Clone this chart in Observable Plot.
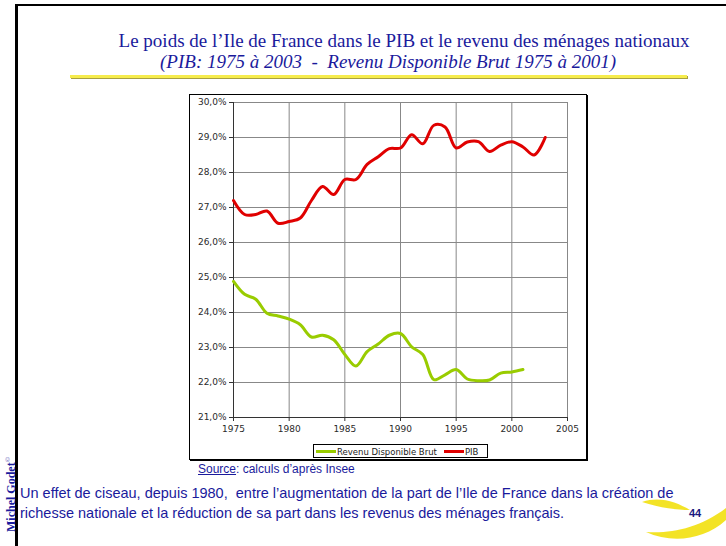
<!DOCTYPE html>
<html>
<head>
<meta charset="utf-8">
<script src="https://cdn.jsdelivr.net/npm/d3@7"></script>
<script src="https://cdn.jsdelivr.net/npm/@observablehq/plot@0.6"></script>
<style>
  html, body { margin: 0; padding: 0; background: #fff; }
  #page { position: relative; width: 726px; height: 546px; overflow: hidden; background: #fff; }
  .abs { position: absolute; white-space: nowrap; }
  .navy { color: #1a1a9c; }
</style>
</head>
<body>
<div id="page">
  <div class="abs" style="left:15px;top:4px;width:720px;height:560px;border-left:3px solid #000;border-top:2px solid #000;"></div>
  <div class="abs navy" id="title" style="left:404px;top:30px;transform:translateX(-50%);font:19px 'Liberation Serif',serif;line-height:22px;"></div>
  <div class="abs navy" id="subtitle" style="left:388px;top:51px;transform:translateX(-50%);font:italic 19px 'Liberation Serif',serif;line-height:22px;"></div>
  <div class="abs" style="left:70px;top:75px;width:617px;height:3px;background:#f6ec4c;box-shadow:1px 1px 0 #a8a040;"></div>
  <div class="abs" style="left:189px;top:94px;width:396px;height:364px;border:1px solid #000;box-shadow:1px 1px 0 #000;"></div>
  <div class="abs" id="chart" style="left:189px;top:94px;"></div>
  <div class="abs" id="legend" style="left:313px;top:444px;width:173px;height:12px;border:1px solid #000;font:8.5px 'DejaVu Sans',sans-serif;color:#222;line-height:12px;"></div>
  <div class="abs navy" id="source" style="left:198px;top:462px;font:12px 'Liberation Sans',Arial,sans-serif;line-height:15px;"></div>
  <div class="abs navy" id="note1" style="left:20px;top:485px;font:14.5px 'Liberation Sans',Arial,sans-serif;line-height:17px;"></div>
  <div class="abs navy" id="note2" style="left:20px;top:505px;font:14.5px 'Liberation Sans',Arial,sans-serif;line-height:17px;"></div>
  <svg class="abs" style="left:0px;top:440px;" width="20" height="106">
    <text id="author" transform="translate(15,92) rotate(-90)" font-family="'Liberation Serif',serif" font-weight="bold" font-size="12" fill="#1a1a9c"></text>
  </svg>
  <svg class="abs" style="left:620px;top:480px;" width="106" height="66" viewBox="0 0 106 66">
    <path d="M22,22 C40,16 56,22 70,30 C58,30 40,28 22,22 Z" fill="#f2e21a" opacity="0.95"/>
    <path d="M26,52 C50,54 80,48 106,28 L106,40 C84,60 52,64 26,52 Z" fill="#f2e21a" opacity="0.95"/>
  </svg>
  <div class="abs" id="pagenum" style="left:689px;top:507px;font:bold 11px 'Liberation Sans',Arial,sans-serif;color:#1a1a80;line-height:12px;"></div>
</div>
<script>
// ---- data ----
const years = [1975,1976,1977,1978,1979,1980,1981,1982,1983,1984,1985,1986,1987,1988,1989,1990,1991,1992,1993,1994,1995,1996,1997,1998,1999,2000,2001,2002,2003];
const pib = [27.2,26.8,26.8,26.9,26.55,26.6,26.7,27.2,27.6,27.37,27.8,27.8,28.23,28.45,28.68,28.7,29.08,28.82,29.35,29.3,28.7,28.87,28.88,28.6,28.78,28.88,28.73,28.5,29.0];
const rdbYears = [1975,1976,1977,1978,1979,1980,1981,1982,1983,1984,1985,1986,1987,1988,1989,1990,1991,1992,1993,1994,1995,1996,1997,1998,1999,2000,2001];
const rdb = [24.89,24.52,24.38,23.98,23.9,23.81,23.65,23.3,23.35,23.22,22.8,22.47,22.88,23.1,23.35,23.4,23.02,22.8,22.08,22.22,22.37,22.1,22.05,22.07,22.27,22.3,22.37];
const xTicks = [1975,1980,1985,1990,1995,2000,2005];
const yTicks = [21,22,23,24,25,26,27,28,29,30];
const seriesNames = ["Revenu Disponible Brut","PIB"];
const seriesColors = ["#99cc00","#e00000"];

const titleText = "Le poids de l\u2019Ile de France dans le PIB et le revenu des ménages nationaux";
const subtitleText = "(PIB: 1975 à 2003\u00a0 -\u00a0 Revenu Disponible Brut 1975 à 2001)";
const sourceLabel = "Source";
const sourceRest = ": calculs d\u2019après Insee";
const note1 = "Un effet de ciseau, depuis 1980,\u00a0 entre l\u2019augmentation de la part de l\u2019Ile de France dans la création de";
const note2 = "richesse nationale et la réduction de sa part dans les revenus des ménages français.";
const author = "Michel Godet";
const pageNum = "44";

// ---- texts ----
document.getElementById("title").textContent = titleText;
document.getElementById("subtitle").textContent = subtitleText;
document.getElementById("source").innerHTML = "<u>" + sourceLabel + "</u>" + sourceRest;
document.getElementById("note1").textContent = note1;
document.getElementById("note2").textContent = note2;
const authorEl = document.getElementById("author");
authorEl.textContent = author;
const sup = document.createElementNS("http://www.w3.org/2000/svg", "tspan");
sup.setAttribute("dy", "-5");
sup.setAttribute("font-size", "7");
sup.setAttribute("font-weight", "normal");
sup.textContent = "©";
authorEl.appendChild(sup);
document.getElementById("pagenum").textContent = pageNum;

// ---- data table ----
const rows = [
  ...rdbYears.map((y, i) => ({year: y, value: rdb[i], series: seriesNames[0]})),
  ...years.map((y, i) => ({year: y, value: pib[i], series: seriesNames[1]}))
];

const fmt = d => d.toFixed(1).replace(".", ",") + "%";

const chart = Plot.plot({
  width: 398,
  height: 366,
  marginLeft: 44,
  marginRight: 20,
  marginTop: 8,
  marginBottom: 43,
  style: {fontFamily: "'DejaVu Sans', sans-serif", fontSize: "9px", color: "#2a2a2a", background: "transparent", overflow: "visible"},
  x: {domain: [1975, 2005]},
  y: {domain: [21, 30]},
  color: {domain: seriesNames, range: seriesColors},
  marks: [
    Plot.ruleY(yTicks, {y: d => d, stroke: "#888", strokeWidth: 1}),
    Plot.ruleX(xTicks, {x: d => d, y1: 21, y2: 30, stroke: "#888", strokeWidth: 1}),
    Plot.axisY({ticks: yTicks, tickFormat: fmt, tickSize: 4, tickPadding: 3, stroke: "#333", label: null}),
    Plot.axisX({ticks: xTicks, tickFormat: d => String(d), tickSize: 4, tickPadding: 4, stroke: "#333", label: null}),
    Plot.ruleX([1975], {y1: 21, y2: 30, stroke: "#333"}),
    Plot.ruleY([21], {x1: 1975, x2: 2005, stroke: "#333"}),
    Plot.line(rows, {x: "year", y: "value", z: "series", stroke: "series", strokeWidth: 3, curve: "catmull-rom"})
  ]
});
document.getElementById("chart").appendChild(chart);

// ---- legend ----
const legend = document.getElementById("legend");
const parts = seriesNames.map((n, i) =>
  `<span style="display:inline-block;width:20px;height:3px;background:${seriesColors[i]};vertical-align:middle;margin:0 1px 0 ${i === 0 ? 2 : 7}px;"></span><span style="vertical-align:middle">${n}</span>`
);
legend.innerHTML = parts.join("");
</script>
</body>
</html>
